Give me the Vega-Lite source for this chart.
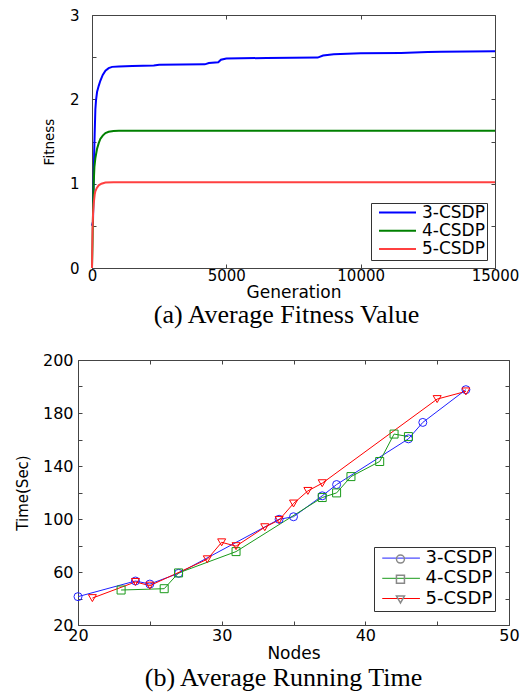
{
  "$schema": "https://vega.github.io/schema/vega-lite/v6.json",
  "background": "white",
  "padding": {"left": 14, "top": 7, "right": 2, "bottom": 2},
  "spacing": 92,
  "bounds": "flush",
  "center": true,
  "resolve": {"scale": {"color": "independent", "shape": "independent", "strokeWidth": "independent"}},
  "config": {
    "view": {"stroke": "#444", "strokeWidth": 1},
    "axis": {"grid": false, "domain": false, "tickSize": -4, "tickColor": "#444", "labelColor": "#000", "titleColor": "#000", "labelFont": "DejaVu Sans", "titleFont": "DejaVu Sans", "titleFontWeight": "normal", "labelFlush": false},
    "legend": {"labelFont": "DejaVu Sans", "labelColor": "#000", "strokeColor": "#333", "fillColor": "white", "title": null}
  },
  "vconcat": [
    {
      "width": 403,
      "height": 253,
      "title": {"text": "(a) Average Fitness Value", "orient": "bottom", "font": "Liberation Serif", "fontSize": 26, "fontWeight": "normal", "color": "#000", "frame": "group", "anchor": "middle", "dx": -7, "offset": 2},
      "data": {"values": [
        {"generation": 0, "fitness": 0.5, "series": "3-CSDP"},
        {"generation": 37, "fitness": 0.55, "series": "3-CSDP"},
        {"generation": 60, "fitness": 1.0, "series": "3-CSDP"},
        {"generation": 80, "fitness": 1.35, "series": "3-CSDP"},
        {"generation": 100, "fitness": 1.6, "series": "3-CSDP"},
        {"generation": 125, "fitness": 1.88, "series": "3-CSDP"},
        {"generation": 150, "fitness": 1.99, "series": "3-CSDP"},
        {"generation": 190, "fitness": 2.09, "series": "3-CSDP"},
        {"generation": 250, "fitness": 2.16, "series": "3-CSDP"},
        {"generation": 310, "fitness": 2.22, "series": "3-CSDP"},
        {"generation": 400, "fitness": 2.29, "series": "3-CSDP"},
        {"generation": 500, "fitness": 2.34, "series": "3-CSDP"},
        {"generation": 620, "fitness": 2.37, "series": "3-CSDP"},
        {"generation": 750, "fitness": 2.385, "series": "3-CSDP"},
        {"generation": 1000, "fitness": 2.39, "series": "3-CSDP"},
        {"generation": 1500, "fitness": 2.395, "series": "3-CSDP"},
        {"generation": 2300, "fitness": 2.4, "series": "3-CSDP"},
        {"generation": 2500, "fitness": 2.41, "series": "3-CSDP"},
        {"generation": 4200, "fitness": 2.415, "series": "3-CSDP"},
        {"generation": 4350, "fitness": 2.43, "series": "3-CSDP"},
        {"generation": 4700, "fitness": 2.44, "series": "3-CSDP"},
        {"generation": 4800, "fitness": 2.47, "series": "3-CSDP"},
        {"generation": 5000, "fitness": 2.485, "series": "3-CSDP"},
        {"generation": 6500, "fitness": 2.49, "series": "3-CSDP"},
        {"generation": 8400, "fitness": 2.495, "series": "3-CSDP"},
        {"generation": 8600, "fitness": 2.52, "series": "3-CSDP"},
        {"generation": 9000, "fitness": 2.535, "series": "3-CSDP"},
        {"generation": 10000, "fitness": 2.545, "series": "3-CSDP"},
        {"generation": 11500, "fitness": 2.55, "series": "3-CSDP"},
        {"generation": 12500, "fitness": 2.56, "series": "3-CSDP"},
        {"generation": 13000, "fitness": 2.565, "series": "3-CSDP"},
        {"generation": 15000, "fitness": 2.57, "series": "3-CSDP"},
        {"generation": 0, "fitness": 0.0, "series": "4-CSDP"},
        {"generation": 20, "fitness": 0.3, "series": "4-CSDP"},
        {"generation": 40, "fitness": 0.7, "series": "4-CSDP"},
        {"generation": 62, "fitness": 1.0, "series": "4-CSDP"},
        {"generation": 90, "fitness": 1.2, "series": "4-CSDP"},
        {"generation": 124, "fitness": 1.3, "series": "4-CSDP"},
        {"generation": 186, "fitness": 1.41, "series": "4-CSDP"},
        {"generation": 250, "fitness": 1.48, "series": "4-CSDP"},
        {"generation": 310, "fitness": 1.53, "series": "4-CSDP"},
        {"generation": 400, "fitness": 1.57, "series": "4-CSDP"},
        {"generation": 500, "fitness": 1.6, "series": "4-CSDP"},
        {"generation": 620, "fitness": 1.615, "series": "4-CSDP"},
        {"generation": 800, "fitness": 1.625, "series": "4-CSDP"},
        {"generation": 1000, "fitness": 1.628, "series": "4-CSDP"},
        {"generation": 15000, "fitness": 1.628, "series": "4-CSDP"},
        {"generation": 0, "fitness": 0.0, "series": "5-CSDP"},
        {"generation": 20, "fitness": 0.45, "series": "5-CSDP"},
        {"generation": 40, "fitness": 0.65, "series": "5-CSDP"},
        {"generation": 62, "fitness": 0.76, "series": "5-CSDP"},
        {"generation": 100, "fitness": 0.87, "series": "5-CSDP"},
        {"generation": 124, "fitness": 0.91, "series": "5-CSDP"},
        {"generation": 180, "fitness": 0.95, "series": "5-CSDP"},
        {"generation": 248, "fitness": 0.98, "series": "5-CSDP"},
        {"generation": 350, "fitness": 1.0, "series": "5-CSDP"},
        {"generation": 500, "fitness": 1.013, "series": "5-CSDP"},
        {"generation": 800, "fitness": 1.018, "series": "5-CSDP"},
        {"generation": 15000, "fitness": 1.018, "series": "5-CSDP"}
      ]},
      "layer": [
        {
          "mark": {"type": "line"},
          "encoding": {
            "x": {"field": "generation", "type": "quantitative", "scale": {"domain": [0, 15000], "nice": false, "zero": false},
                  "axis": {"orient": "bottom", "values": [0, 5000, 10000, 15000], "format": "d", "title": "Generation", "titleFontSize": 17, "labelFontSize": 15, "labelPadding": 4, "titlePadding": 1}},
            "y": {"field": "fitness", "type": "quantitative", "scale": {"domain": [0, 3], "nice": false},
                  "axis": {"orient": "left", "values": [0, 0.5, 1, 1.5, 2, 2.5, 3], "labelExpr": "datum.value % 1 === 0 ? format(datum.value, 'd') : ''", "title": "Fitness", "titleFontSize": 13.5, "labelFontSize": 15, "labelPadding": 17, "titlePadding": 13}},
            "color": {"field": "series", "type": "nominal",
                      "scale": {"domain": ["3-CSDP", "4-CSDP", "5-CSDP"], "range": ["#0000ff", "#008000", "#ff4040"]},
                      "legend": {"orient": "none", "legendX": 279, "legendY": 188, "symbolType": "stroke", "symbolSize": 1369, "clipHeight": 15, "rowPadding": 0.3, "padding": 2, "symbolOffset": 5, "labelOffset": 5, "labelFontSize": 17, "labelExpr": "datum.label + ' '",
                                 "encode": {"symbols": {"update": {"strokeWidth": {"signal": "datum.value === '5-CSDP' ? 1 : 2"}}}}}},
            "strokeWidth": {"field": "series", "type": "ordinal", "scale": {"domain": ["3-CSDP", "4-CSDP", "5-CSDP"], "range": [2, 2, 1]}, "legend": null}
          }
        },
        {
          "mark": {"type": "line", "opacity": 0},
          "encoding": {
            "x": {"field": "generation", "type": "quantitative", "axis": {"orient": "top", "values": [0, 5000, 10000, 15000], "labels": false, "title": null}},
            "y": {"field": "fitness", "type": "quantitative", "axis": {"orient": "right", "values": [0, 0.5, 1, 1.5, 2, 2.5, 3], "labels": false, "title": null}}
          }
        }
      ],
      "resolve": {"axis": {"x": "independent", "y": "independent"}}
    },
    {
      "width": 431,
      "height": 265,
      "title": {"text": "(b) Average Running Time", "orient": "bottom", "font": "Liberation Serif", "fontSize": 26, "fontWeight": "normal", "color": "#000", "frame": "group", "anchor": "middle", "dx": -10, "offset": 4},
      "data": {"values": [
        {"nodes": 20, "time": 41.4, "series": "3-CSDP"},
        {"nodes": 24, "time": 53.2, "series": "3-CSDP"},
        {"nodes": 25, "time": 50.9, "series": "3-CSDP"},
        {"nodes": 27, "time": 59.0, "series": "3-CSDP"},
        {"nodes": 34, "time": 99.8, "series": "3-CSDP"},
        {"nodes": 35, "time": 101.7, "series": "3-CSDP"},
        {"nodes": 37, "time": 117.5, "series": "3-CSDP"},
        {"nodes": 38, "time": 126.0, "series": "3-CSDP"},
        {"nodes": 43, "time": 160.5, "series": "3-CSDP"},
        {"nodes": 44, "time": 172.9, "series": "3-CSDP"},
        {"nodes": 47, "time": 197.6, "series": "3-CSDP"},
        {"nodes": 23, "time": 46.4, "series": "4-CSDP"},
        {"nodes": 26, "time": 47.4, "series": "4-CSDP"},
        {"nodes": 27, "time": 59.3, "series": "4-CSDP"},
        {"nodes": 31, "time": 75.4, "series": "4-CSDP"},
        {"nodes": 37, "time": 116.2, "series": "4-CSDP"},
        {"nodes": 38, "time": 119.7, "series": "4-CSDP"},
        {"nodes": 39, "time": 132.0, "series": "4-CSDP"},
        {"nodes": 41, "time": 143.4, "series": "4-CSDP"},
        {"nodes": 42, "time": 164.1, "series": "4-CSDP"},
        {"nodes": 43, "time": 162.2, "series": "4-CSDP"},
        {"nodes": 21, "time": 40.3, "series": "5-CSDP"},
        {"nodes": 24, "time": 52.5, "series": "5-CSDP"},
        {"nodes": 25, "time": 49.7, "series": "5-CSDP"},
        {"nodes": 29, "time": 69.6, "series": "5-CSDP"},
        {"nodes": 30, "time": 82.4, "series": "5-CSDP"},
        {"nodes": 31, "time": 79.5, "series": "5-CSDP"},
        {"nodes": 33, "time": 93.8, "series": "5-CSDP"},
        {"nodes": 34, "time": 99.3, "series": "5-CSDP"},
        {"nodes": 35, "time": 111.7, "series": "5-CSDP"},
        {"nodes": 36, "time": 121.2, "series": "5-CSDP"},
        {"nodes": 37, "time": 127.0, "series": "5-CSDP"},
        {"nodes": 45, "time": 190.5, "series": "5-CSDP"},
        {"nodes": 47, "time": 196.3, "series": "5-CSDP"}
      ]},
      "layer": [
        {
          "mark": {"type": "line", "strokeWidth": 1},
          "encoding": {
            "x": {"field": "nodes", "type": "quantitative", "scale": {"domain": [20, 50], "nice": false, "zero": false},
                  "axis": {"orient": "bottom", "values": [20, 25, 30, 35, 40, 45, 50], "labelExpr": "datum.value % 10 === 0 ? datum.label : ''", "title": "Nodes", "titleFontSize": 17, "labelFontSize": 16, "labelPadding": 6, "titlePadding": 2}},
            "y": {"field": "time", "type": "quantitative", "scale": {"domain": [20, 220], "nice": false, "zero": false},
                  "axis": {"orient": "left", "values": [20, 40, 60, 80, 100, 120, 140, 160, 180, 200, 220], "labelExpr": "datum.value === 220 ? '200' : (datum.value % 40 === 20 ? datum.label : '')", "title": "Time(Sec)", "titleFontSize": 15, "labelFontSize": 16, "labelPadding": 9, "titlePadding": 12}},
            "color": {"field": "series", "type": "nominal",
                      "scale": {"domain": ["3-CSDP", "4-CSDP", "5-CSDP"], "range": ["#2020ff", "#1a9a1a", "#ff0000"]},
                      "legend": {"orient": "bottom-right", "offset": 14, "symbolType": "stroke", "symbolSize": 1421, "clipHeight": 17, "rowPadding": 1.2, "padding": 2.6, "symbolOffset": 5, "labelOffset": 5, "labelFontSize": 18, "labelExpr": "datum.label + ' '",
                                 "encode": {"symbols": {"update": {"strokeWidth": {"value": 1}}}}}}
          }
        },
        {
          "mark": {"type": "point", "filled": false, "size": 64, "strokeWidth": 1, "opacity": 1},
          "encoding": {
            "x": {"field": "nodes", "type": "quantitative", "axis": null},
            "y": {"field": "time", "type": "quantitative", "axis": null},
            "color": {"field": "series", "type": "nominal", "legend": null},
            "shape": {"field": "series", "type": "nominal", "scale": {"domain": ["3-CSDP", "4-CSDP", "5-CSDP"], "range": ["circle", "square", "triangle-down"]},
                      "legend": {"orient": "none", "legendX": 291, "legendY": 188, "symbolSize": 64, "clipHeight": 17, "rowPadding": 1.2, "padding": 2.6, "symbolOffset": 19.85, "labelOffset": 5, "labelFontSize": 18, "labelExpr": "''", "fillColor": "transparent", "strokeColor": "transparent",
                                 "encode": {"symbols": {"update": {
                                   "stroke": {"signal": "datum.value === '3-CSDP' ? '#2020ff' : (datum.value === '4-CSDP' ? '#1a9a1a' : '#ff0000')"},
                                   "fill": {"value": "transparent"},
                                   "strokeWidth": {"value": 1},
                                   "opacity": {"value": 1}
                                 }}}}}
          }
        },
        {
          "mark": {"type": "line", "opacity": 0},
          "encoding": {
            "x": {"field": "nodes", "type": "quantitative", "axis": {"orient": "top", "values": [20, 25, 30, 35, 40, 45, 50], "labels": false, "title": null}},
            "y": {"field": "time", "type": "quantitative", "axis": {"orient": "right", "values": [20, 40, 60, 80, 100, 120, 140, 160, 180, 200, 220], "labels": false, "title": null}}
          }
        }
      ],
      "resolve": {"axis": {"x": "independent", "y": "independent"}}
    }
  ]
}
